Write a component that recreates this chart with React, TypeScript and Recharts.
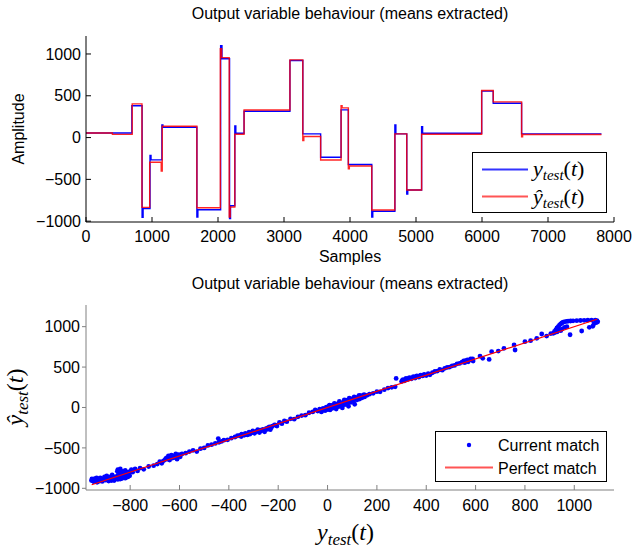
import React from 'react';
import { LineChart, Line, ScatterChart, Scatter, XAxis, YAxis } from 'recharts';

// top plot: step signals (sample index where a level starts, level value)
const yTestIdx = [0, 695, 850, 865, 970, 985, 1150, 1165, 1680, 1695, 2040, 2060, 2175, 2190, 2255, 2270, 2395, 3090, 3285, 3555, 3865, 3975, 4330, 4345, 4680, 4695, 4860, 4875, 5085, 5100, 5995, 6170, 6600, 7810];
const yTestVal = [55, 380, -955, -850, -215, -267, 150, 124, -950, -864, 1100, 942, -970, -815, 140, 52, 315, 922, 44, -236, 331, -323, -950, -882, 150, 44, -675, -627, 130, 52, 555, 411, 44, 44];

const yHatIdx = [0, 400, 700, 848, 965, 1140, 1155, 1680, 2035, 2055, 2170, 2185, 2255, 2395, 3090, 3285, 3300, 3555, 3865, 3880, 3975, 3990, 4330, 4680, 4860, 5085, 5995, 6170, 6600, 6615, 7810];
const yHatVal = [55, 38, 403, -835, -295, -400, 135, -840, 1062, 956, -950, -830, 40, 330, 930, -36, 12, -268, 380, 355, -375, -340, -866, 44, -627, 40, 563, 427, 9, 36, 36];

const sampleTicks = [0, 1000, 2000, 3000, 4000, 5000, 6000, 7000, 8000];
const ampTicks = [-1000, -500, 0, 500, 1000];

// bottom plot: (y_test, y_hat) pairs
const matchPairs: [number, number][] = [
  [-957, -905], [-952, -890], [-947, -918], [-943, -880], [-938, -900], [-934, -925], [-930, -885], [-926, -905],
  [-921, -870], [-917, -895], [-913, -915], [-908, -880], [-904, -860], [-900, -900], [-895, -845], [-891, -880],
  [-887, -910], [-882, -860], [-878, -890], [-873, -835], [-869, -875], [-865, -905], [-860, -855], [-856, -880],
  [-852, -790], [-848, -830], [-845, -860], [-840, -885], [-836, -840], [-832, -865], [-828, -810], [-824, -850],
  [-820, -875], [-815, -835], [-811, -860], [-806, -820], [-802, -845],
  [-955, -885], [-950, -910], [-944, -895], [-936, -870], [-928, -915], [-919, -885], [-910, -900], [-902, -875],
  [-893, -895], [-884, -875], [-876, -905], [-866, -885], [-858, -870], [-850, -890], [-842, -870], [-834, -880],
  [-826, -865], [-818, -860], [-808, -855],
  [-850, -770], [-845, -800], [-840, -760], [-830, -790], [-820, -780], [-810, -800], [-800, -790], [-795, -770],
  [-790, -800], [-780, -760], [-770, -785], [-760, -750], [-745, -765], [-725, -730], [-705, -720],
  [-690, -700], [-680, -670], [-672, -690], [-665, -660], [-658, -645], [-650, -620], [-645, -600], [-640, -650],
  [-633, -590], [-628, -625], [-622, -605], [-615, -575], [-610, -640], [-603, -585], [-597, -610], [-590, -575],
  [-655, -630], [-648, -640], [-636, -615], [-625, -600], [-618, -620], [-606, -600], [-600, -590],
  [-575, -565], [-560, -545], [-545, -530], [-530, -545], [-515, -510], [-500, -500], [-485, -470], [-470, -460],
  [-455, -445], [-443, -385], [-440, -430], [-430, -420], [-420, -405], [-405, -400], [-390, -380], [-375, -365],
  [-365, -350], [-355, -345], [-348, -330], [-340, -335], [-333, -320], [-325, -340], [-318, -305], [-310, -315],
  [-303, -290], [-296, -320], [-290, -300], [-283, -275], [-276, -310], [-270, -290], [-262, -270], [-255, -300],
  [-248, -260], [-240, -250], [-232, -275], [-224, -230], [-215, -215], [-205, -230], [-195, -185], [-185, -200],
  [-350, -360], [-338, -345], [-328, -330], [-315, -330], [-300, -310], [-286, -290], [-272, -280], [-258, -285],
  [-244, -270], [-236, -240], [-228, -250], [-210, -220],
  [-175, -165], [-165, -175], [-150, -140], [-135, -145], [-120, -115], [-105, -100], [-90, -95], [-75, -65],
  [-60, -55], [-50, -30],
  [-40, -45], [-32, -20], [-25, -55], [-18, -10], [-10, -40], [-5, 5], [0, -25], [5, 15], [10, -30], [15, 25],
  [20, -10], [25, 35], [30, 0], [35, -20], [40, 45], [45, 10], [50, 60], [55, 20], [60, -5], [65, 70], [70, 35],
  [75, 90], [80, 50], [85, 15], [90, 100], [95, 65], [100, 110], [105, 80], [110, 40], [115, 120], [120, 95],
  [125, 135], [130, 105], [135, 145], [140, 120], [145, 150], [150, 130], [160, 150], [170, 165], [185, 175],
  [-20, -35], [-12, -25], [2, -10], [12, 0], [22, 15], [32, 20], [42, 25], [52, 35], [62, 45], [72, 55], [82, 70],
  [92, 80], [102, 90], [112, 100], [122, 115], [132, 125], [142, 135], [8, 30], [28, 50], [48, 75], [68, 95],
  [88, 115], [108, 130], [128, 150], [148, 160],
  [200, 195], [213, 194], [230, 220], [245, 240], [260, 250], [274, 255], [278, 360],
  [300, 320], [306, 345], [312, 330], [318, 360], [325, 345], [332, 370], [340, 355], [348, 380], [355, 365],
  [362, 390], [370, 375], [378, 400], [385, 390], [392, 410], [400, 395], [408, 420], [415, 405],
  [303, 335], [315, 345], [328, 360], [343, 368], [358, 380], [373, 390], [388, 400],
  [425, 430], [435, 445], [445, 450], [455, 470], [465, 462], [475, 485], [485, 495], [495, 500], [505, 515],
  [515, 520], [525, 540], [535, 545], [545, 560], [552, 575], [560, 580], [567, 590], [574, 585], [580, 600],
  [585, 590], [590, 575], [556, 555], [570, 565], [588, 600],
  [618, 636], [629, 608], [655, 595], [665, 690], [692, 698], [715, 732], [756, 773], [760, 711], [800, 814],
  [823, 826], [848, 856], [868, 909], [888, 884],
  [905, 915], [915, 918], [920, 940], [925, 960], [930, 985], [935, 1000], [940, 1020], [945, 1035], [950, 1045],
  [955, 1055], [960, 1060], [968, 1065], [975, 1068], [985, 1070], [995, 1072], [1010, 1074], [1025, 1076],
  [1040, 1078], [1055, 1080], [1070, 1082], [1085, 1080], [1092, 1075], [1095, 1060], [1090, 1050], [1080, 1035],
  [940, 960], [950, 970], [960, 990], [970, 1000], [983, 900], [1030, 946], [1061, 992], [1075, 1005],
  [930, 935], [945, 950], [920, 925],
];
const perfectEnds = [-956, 1092];
const matchXTicks = [-800, -600, -400, -200, 0, 200, 400, 600, 800, 1000];
const matchYTicks = [-1000, -500, 0, 500, 1000];

const yTestData = yTestIdx.map((x, i) => ({ x, v: yTestVal[i] }));
const yHatData = yHatIdx.map((x, i) => ({ x, v: yHatVal[i] }));
const matchData = matchPairs.map(([x, y]) => ({ x, y }));
const perfectData = perfectEnds.map((v) => ({ x: v, y: v }));

const sans = 'Liberation Sans, Arial, sans-serif';
const serif = 'Liberation Serif, DejaVu Serif, serif';
const tickStyle = { fill: '#000', fontSize: 16, fontFamily: sans };
// MATLAB prints a real minus sign
const fmt = (v: number) => String(v).replace('-', '\u2212');

function MathLabel({ x, y, hat = false, size = 22, rotate = false }: any) {
  const sub = Math.round(size * 0.7);
  return (
    <text
      x={x}
      y={y}
      fontFamily={serif}
      fontSize={size}
      textAnchor={rotate ? 'middle' : 'start'}
      transform={rotate ? `rotate(-90 ${x} ${y})` : undefined}
      fill="#000"
    >
      <tspan fontStyle="italic">{hat ? 'ŷ' : 'y'}</tspan>
      <tspan fontStyle="italic" fontSize={sub} dy={size * 0.2}>test</tspan>
      <tspan dy={-size * 0.2}>(</tspan>
      <tspan fontStyle="italic">t</tspan>
      <tspan>)</tspan>
    </text>
  );
}

export default function App() {
  return (
    <div style={{ position: 'absolute', left: 0, top: 0, width: 635, height: 549, background: '#fff' }}>
      <div style={{ position: 'absolute', left: 0, top: 0 }}>
        <LineChart width={635} height={270} margin={{ top: 36, right: 21, left: 0, bottom: 0 }}>
          <XAxis
            dataKey="x"
            type="number"
            domain={[0, 8000]}
            ticks={sampleTicks}
            height={48}
            stroke="#000"
            tickSize={-5}
            tickMargin={14}
            tick={tickStyle}
            allowDataOverflow
          />
          <YAxis
            type="number"
            domain={[-1010, 1215]}
            ticks={ampTicks}
            tickFormatter={fmt}
            width={86}
            stroke="#000"
            tickSize={-5}
            tickMargin={10}
            tick={tickStyle}
            allowDataOverflow
          />
          <XAxis xAxisId="top" orientation="top" type="number" domain={[0, 8000]} ticks={sampleTicks} height={0} mirror tick={false} tickSize={5} stroke="#000" />
          <YAxis yAxisId="right" orientation="right" type="number" domain={[-1010, 1215]} ticks={ampTicks} width={0} mirror tick={false} tickSize={5} stroke="#000" />
          <Line data={yTestData} dataKey="v" type="stepAfter" stroke="#0000ff" strokeWidth={1.4} dot={false} isAnimationActive={false} />
          <Line data={yHatData} dataKey="v" type="stepAfter" stroke="#ff0000" strokeWidth={1.4} strokeOpacity={0.85} dot={false} isAnimationActive={false} />
        </LineChart>
      </div>

      <div style={{ position: 'absolute', left: 0, top: 270 }}>
        <ScatterChart width={635} height={279} margin={{ top: 35, right: 21, left: 0, bottom: 0 }}>
          <XAxis
            dataKey="x"
            type="number"
            domain={[-979, 1161]}
            ticks={matchXTicks}
            tickFormatter={fmt}
            height={59}
            stroke="#808080"
            tickSize={-5}
            tickMargin={15}
            tick={tickStyle}
            allowDataOverflow
          />
          <YAxis
            dataKey="y"
            type="number"
            domain={[-1021, 1268]}
            ticks={matchYTicks}
            tickFormatter={fmt}
            width={86}
            stroke="#808080"
            tickSize={4}
            tickMargin={2}
            tick={tickStyle}
            allowDataOverflow
          />
          <Scatter
            data={matchData}
            isAnimationActive={false}
            shape={(p: any) => <circle cx={p.cx} cy={p.cy} r={2.4} fill="#0000ff" />}
          />
          <Scatter
            data={perfectData}
            isAnimationActive={false}
            line={{ stroke: '#ff0000', strokeWidth: 1.2 }}
            shape={() => <g />}
          />
        </ScatterChart>
      </div>

      <svg width={635} height={549} style={{ position: 'absolute', left: 0, top: 0, pointerEvents: 'none' }}>
        <text x={350} y={19} textAnchor="middle" fontFamily={sans} fontSize={16} fill="#000">
          Output variable behaviour (means extracted)
        </text>
        <text x={350} y={262} textAnchor="middle" fontFamily={sans} fontSize={16} fill="#000">
          Samples
        </text>
        <text x={24} y={129} textAnchor="middle" fontFamily={sans} fontSize={16} fill="#000" transform="rotate(-90 24 129)">
          Amplitude
        </text>
        <text x={350} y={289} textAnchor="middle" fontFamily={sans} fontSize={16} fill="#000">
          Output variable behaviour (means extracted)
        </text>

        {/* top legend */}
        <rect x={472.5} y={152.5} width={134} height={60} fill="#fff" stroke="#000" strokeWidth={1} />
        <line x1={482} x2={528} y1={169.5} y2={169.5} stroke="#3333ff" strokeWidth={2} />
        <line x1={482} x2={528} y1={196.5} y2={196.5} stroke="#ff5555" strokeWidth={2} />
        <MathLabel x={533} y={176} size={22} />
        <MathLabel x={533} y={204} size={22} hat />

        {/* bottom legend */}
        <rect x={435.5} y={431.5} width={171} height={50} fill="#fff" stroke="#000" strokeWidth={1} />
        <circle cx={469} cy={445} r={2.2} fill="#0000ff" />
        <text x={498} y={451} fontFamily={sans} fontSize={16} fill="#000">Current match</text>
        <line x1={445} x2={493} y1={467.5} y2={467.5} stroke="#ff5555" strokeWidth={2} />
        <text x={498} y={474} fontFamily={sans} fontSize={16} fill="#000">Perfect match</text>

        <MathLabel x={317} y={540} size={24} />
        <MathLabel x={23} y={397} size={24} hat rotate />
      </svg>
    </div>
  );
}
